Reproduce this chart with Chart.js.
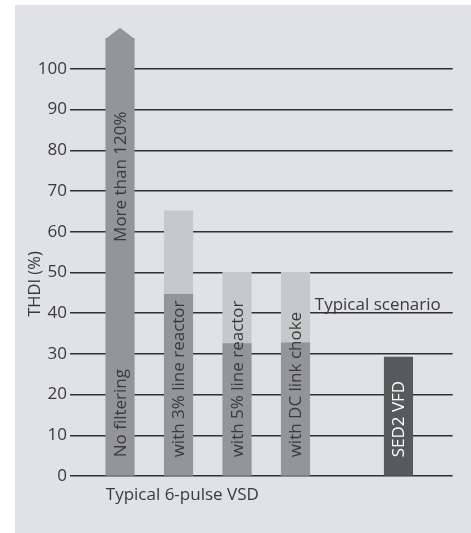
<!DOCTYPE html>
<html>
<head>
<meta charset="utf-8">
<script src="https://cdn.jsdelivr.net/npm/chart.js@4"></script>
<style>
  html, body { margin: 0; padding: 0; background: #ffffff; }
  #wrap { position: relative; width: 471px; height: 533px; }
</style>
</head>
<body>
<div id="wrap"><canvas id="c" width="471" height="533"></canvas></div>
<script>
// ---- data ----
const categories = ['No filtering', 'with 3% line reactor', 'with 5% line reactor', 'with DC link choke', 'SED2 VFD'];
const xPositions = [0, 1, 2, 3, 4.76];
const baseValues = [107.5, 44.6, 32.5, 32.7, 29.2];     // lower / best value
const rangeTop   = [null, 65.1, 50, 50, null];          // upper value of typical range
const yTicks = [0, 10, 20, 30, 40, 50, 60, 70, 80, 90, 100];
const topLabel = 'More than 120%';
const groupLabel = 'Typical 6-pulse VSD';
const scenarioLabel = 'Typical scenario';
const yTitle = 'THDI (%)';

const MID = '#939598', LIGHT = '#c7c8ca', DARK = '#58595b', BG = '#e1e2e6';
const FONT = '"Open Sans", "Noto Sans", sans-serif';

const baseData = baseValues.map((v, i) => ({ x: xPositions[i], y: v }));
const rangeData = rangeTop.map((v, i) => v == null ? null : ({ x: xPositions[i], y: [baseValues[i], v] })).filter(d => d);

const decor = {
  id: 'decor',
  beforeDraw(chart) {
    const c = chart.ctx;
    c.save();
    c.fillStyle = BG;
    c.fillRect(15, 5, 456, 528);
    c.restore();
  },
  afterDatasetsDraw(chart) {
    const c = chart.ctx;
    const meta = chart.getDatasetMeta(0);
    const els = meta.data;
    const ys = chart.scales.y;
    c.save();
    // arrow tip on first bar
    const b0 = els[0];
    const hw = b0.width / 2;
    c.fillStyle = MID;
    c.beginPath();
    c.moveTo(b0.x - hw, b0.y + 0.5);
    c.lineTo(b0.x, b0.y - hw * 0.75);
    c.lineTo(b0.x + hw, b0.y + 0.5);
    c.closePath();
    c.fill();

    // rotated labels in bars
    c.font = '17px ' + FONT;
    c.textAlign = 'left';
    c.textBaseline = 'middle';
    els.forEach((el, i) => {
      c.save();
      c.translate(el.x + 1, el.base - 18);
      c.rotate(-Math.PI / 2);
      c.fillStyle = i === els.length - 1 ? '#ffffff' : '#3a3a3a';
      c.fillText(categories[i], 0, 0);
      c.restore();
    });
    // "More than 120%"
    c.save();
    c.translate(els[0].x + 1, ys.getPixelForValue(57.5));
    c.rotate(-Math.PI / 2);
    c.fillStyle = '#3a3a3a';
    c.fillText(topLabel, 0, 0);
    c.restore();

    // group label under axis
    c.fillStyle = '#3a3a3a';
    c.textBaseline = 'middle';
    c.fillText(groupLabel, els[0].x - hw, ys.getPixelForValue(0) + 19);

    // typical scenario
    const b3 = els[3];
    c.textBaseline = 'alphabetic';
    c.fillText(scenarioLabel, b3.x + b3.width / 2 + 5, ys.getPixelForValue(40) - 3);

    // y title
    c.save();
    c.translate(35, 284);
    c.rotate(-Math.PI / 2);
    c.textAlign = 'center';
    c.textBaseline = 'middle';
    c.font = '16.5px ' + FONT;
    c.fillText(yTitle, 0, 0);
    c.restore();
    c.restore();
  }
};

new Chart(document.getElementById('c'), {
  type: 'bar',
  data: {
    datasets: [
      {
        label: 'best',
        data: baseData,
        backgroundColor: baseValues.map((v, i) => i === baseValues.length - 1 ? DARK : MID),
        barThickness: 28.5,
        grouped: false,
        order: 1
      },
      {
        label: 'range',
        data: rangeData,
        backgroundColor: LIGHT,
        barThickness: 28.5,
        grouped: false,
        order: 2
      }
    ]
  },
  options: {
    responsive: false,
    animation: false,
    devicePixelRatio: 1,
    layout: { padding: { left: 0, right: 18.3, top: 20, bottom: 57 } },
    plugins: { legend: { display: false }, tooltip: { enabled: false } },
    scales: {
      x: {
        type: 'linear',
        offset: false,
        min: -0.855,
        max: 5.687,
        display: false
      },
      y: {
        min: 0,
        max: 112,
        afterFit(s) { s.width = 70; },
        afterBuildTicks(s) { s.ticks = yTicks.map(v => ({ value: v })); },
        border: { display: false },
        grid: { color: '#303030', lineWidth: 1.4, drawTicks: false },
        ticks: {
          padding: 3,
          color: '#3a3a3a',
          font: { family: FONT, size: 17 }
        }
      }
    }
  },
  plugins: [decor]
});
</script>
</body>
</html>
